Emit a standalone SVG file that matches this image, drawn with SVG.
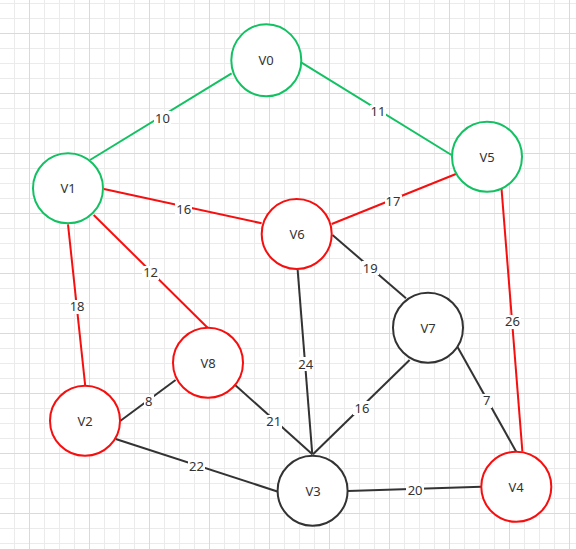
<svg xmlns="http://www.w3.org/2000/svg" width="576" height="549" viewBox="0 0 576 549">
<defs>
<pattern id="minor" patternUnits="userSpaceOnUse" x="14" y="3" width="15" height="15"><path d="M0.5 0V15M0 0.5H15" stroke="#ebebeb" stroke-width="1" fill="none"/></pattern>
<pattern id="major" patternUnits="userSpaceOnUse" x="29" y="33" width="60" height="60"><path d="M0.5 0V60M0 0.5H60" stroke="#dadada" stroke-width="1" fill="none"/></pattern>
<style>
.g{stroke:#12c162}.r{stroke:#f70f0f}.k{stroke:#333333}
.e line{stroke-width:2;fill:none}
.n ellipse{fill:#ffffff;stroke-width:2}
.t{font-family:"Noto Sans","Liberation Sans",sans-serif;font-size:13px;fill:#333333;text-anchor:middle}
.lb rect{fill:#ffffff}
</style>
</defs>
<rect width="576" height="549" fill="#ffffff"/>
<rect width="576" height="549" fill="url(#minor)"/>
<rect width="576" height="549" fill="url(#major)"/>
<g id="edges" class="e">
<line class="g" x1="90" y1="160" x2="231.6" y2="73.3"/>
<line class="g" x1="301.5" y1="62.7" x2="451.5" y2="155"/>
<line class="r" x1="104" y1="189" x2="261.6" y2="223.3"/>
<line class="r" x1="455.9" y1="174" x2="331.7" y2="224"/>
<line class="r" x1="93.7" y1="215" x2="207.6" y2="327.7"/>
<line class="r" x1="68" y1="224.3" x2="85.2" y2="385.7"/>
<line class="r" x1="501.5" y1="188.3" x2="522.4" y2="451.7"/>
<line class="k" x1="332.5" y1="235" x2="406" y2="298.3"/>
<line class="k" x1="297.6" y1="269.3" x2="312.3" y2="454.3"/>
<line class="k" x1="409.6" y1="360" x2="313" y2="454.3"/>
<line class="k" x1="457.4" y1="346.7" x2="516.2" y2="451.7"/>
<line class="k" x1="175.6" y1="380" x2="120.5" y2="420.7"/>
<line class="k" x1="235.1" y1="385" x2="312.3" y2="454.3"/>
<line class="k" x1="115.7" y1="439" x2="278.1" y2="491.7"/>
<line class="k" x1="347.9" y1="491" x2="481.3" y2="486.7"/>
</g>
<g id="edge-labels" class="lb">
<rect x="154" y="111" width="17" height="14"/><text class="t" x="162.5" y="122.5">10</text>
<rect x="370" y="105" width="16" height="14"/><text class="t" x="378" y="116">11</text>
<rect x="175" y="202" width="17" height="14"/><text class="t" x="183.7" y="213.5">16</text>
<rect x="385" y="195" width="17" height="14"/><text class="t" x="393" y="206">17</text>
<rect x="142" y="266" width="17" height="14"/><text class="t" x="150.6" y="277">12</text>
<rect x="69" y="300" width="17" height="14"/><text class="t" x="77.1" y="311">18</text>
<rect x="504" y="315" width="17" height="14"/><text class="t" x="512.5" y="326">26</text>
<rect x="362" y="261" width="17" height="14"/><text class="t" x="370.3" y="272.5">19</text>
<rect x="297" y="357" width="17" height="14"/><text class="t" x="305.7" y="368.5">24</text>
<rect x="353" y="401" width="17" height="14"/><text class="t" x="361.9" y="412.5">16</text>
<rect x="482" y="394" width="10" height="14"/><text class="t" x="486.8" y="405">7</text>
<rect x="144" y="395" width="10" height="14"/><text class="t" x="148.8" y="406">8</text>
<rect x="265" y="415" width="17" height="14"/><text class="t" x="273.7" y="426">21</text>
<rect x="188" y="460" width="17" height="14"/><text class="t" x="196.5" y="471">22</text>
<rect x="406" y="483" width="18" height="14"/><text class="t" x="415.1" y="494.5">20</text>
</g>
<g id="V0" class="n"><ellipse class="g" cx="266.3" cy="60.3" rx="35" ry="36"/><text class="t" x="266" y="65">V0</text></g>
<g id="V1" class="n"><ellipse class="g" cx="68" cy="188.3" rx="35" ry="35"/><text class="t" x="68" y="193">V1</text></g>
<g id="V5" class="n"><ellipse class="g" cx="487" cy="156.7" rx="35" ry="35"/><text class="t" x="487" y="161.5">V5</text></g>
<g id="V6" class="n"><ellipse class="r" cx="296.7" cy="234" rx="35" ry="35"/><text class="t" x="297" y="239">V6</text></g>
<g id="V7" class="n"><ellipse class="k" cx="428" cy="327.7" rx="35" ry="35"/><text class="t" x="428" y="332.5">V7</text></g>
<g id="V8" class="n"><ellipse class="r" cx="208" cy="362.7" rx="35" ry="35"/><text class="t" x="208" y="367.5">V8</text></g>
<g id="V2" class="n"><ellipse class="r" cx="85" cy="420.8" rx="35" ry="35"/><text class="t" x="85" y="425.5">V2</text></g>
<g id="V3" class="n"><ellipse class="k" cx="312.6" cy="490.7" rx="35" ry="35"/><text class="t" x="313" y="495.5">V3</text></g>
<g id="V4" class="n"><ellipse class="r" cx="516.3" cy="486.8" rx="35" ry="35"/><text class="t" x="516" y="491.5">V4</text></g>
</svg>
